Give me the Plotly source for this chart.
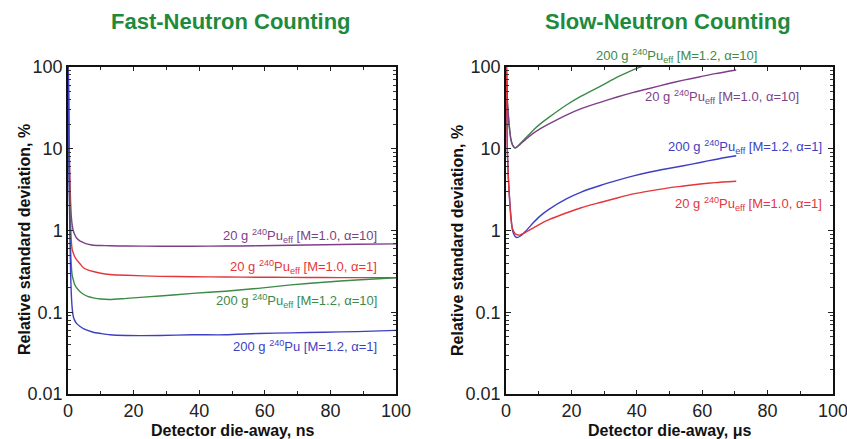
import plotly.graph_objects as go

# ---------------- data ----------------
fast_x = [0.05, 0.3, 0.6, 0.8, 1.0, 1.3, 1.6, 2.0, 2.6, 3.7, 4.7, 6, 7.7, 10, 12.8, 17.9, 28, 38, 48, 58, 68, 78, 88, 100]
fast_purple = [150, 15, 4, 2.2, 1.5, 1.15, 1.0, 0.9, 0.81, 0.74, 0.71, 0.68, 0.66, 0.655, 0.65, 0.645, 0.643, 0.643, 0.645, 0.65, 0.66, 0.67, 0.678, 0.687]
fast_red = [150, 10, 2.5, 1.2, 0.75, 0.58, 0.53, 0.48, 0.44, 0.39, 0.35, 0.33, 0.315, 0.3, 0.29, 0.283, 0.275, 0.272, 0.27, 0.268, 0.267, 0.266, 0.265, 0.265]
fast_green = [150, 8, 1.5, 0.6, 0.38, 0.28, 0.25, 0.22, 0.2, 0.178, 0.166, 0.156, 0.15, 0.145, 0.143, 0.148, 0.158, 0.17, 0.181, 0.196, 0.216, 0.233, 0.248, 0.264]
fast_blue = [150, 5, 0.8, 0.3, 0.17, 0.11, 0.089, 0.08, 0.073, 0.067, 0.063, 0.06, 0.057, 0.055, 0.053, 0.052, 0.052, 0.053, 0.053, 0.055, 0.056, 0.057, 0.058, 0.060]

slow_x = [0.05, 0.4, 0.7, 1.0, 1.5, 2.0, 2.75, 3.3, 4.3, 6, 8.4, 10.4, 13, 18.6, 23, 28.8, 34, 39, 44.1, 49.2, 54.3, 59.4, 64, 70.4]
slow_purple = [150, 40, 26, 18.7, 13, 11.2, 10.3, 10.5, 11.3, 13, 15.5, 17.5, 20, 26, 31, 37, 43, 49, 55, 62, 69, 76, 83, 92]
slow_blue = [150, 10, 4.6, 2.85, 1.5, 1.0, 0.85, 0.82, 0.85, 0.98, 1.25, 1.5, 1.8, 2.45, 2.95, 3.55, 4.1, 4.65, 5.2, 5.7, 6.2, 6.8, 7.4, 8.2]
slow_red = [150, 10, 4.6, 2.7, 1.4, 1.05, 0.92, 0.89, 0.88, 0.95, 1.08, 1.2, 1.35, 1.65, 1.9, 2.2, 2.5, 2.8, 3.05, 3.3, 3.5, 3.7, 3.85, 4.0]
slow_green_x = [0.05, 0.4, 0.7, 1.0, 1.5, 2.0, 2.75, 3.3, 4.3, 6, 8.4, 10.4, 13, 18.6, 23, 28.8, 34, 39, 44.1]
slow_green = [150, 40, 26, 19, 13, 11, 10.2, 10.5, 11.5, 13.5, 17, 20, 24, 34.5, 44, 58, 75, 93, 110]

y_ticks = [0.01, 0.1, 1, 10, 100]
y_tick_labels = ["0.01", "0.1", "1", "10", "100"]
x_ticks = [0, 20, 40, 60, 80, 100]

PURPLE = "#7e3f88"
RED = "#e3363c"
GREEN = "#3b8a47"
BLUE = "#3d3fc4"
TITLE_GREEN = "#1e8a3c"
FONT = "Liberation Sans, Arial, sans-serif"

fig = go.Figure()

def add(x, y, color, xa, ya):
    fig.add_trace(go.Scatter(x=x, y=y, mode="lines",
                             line=dict(color=color, width=1.4, shape="spline", smoothing=0.6),
                             xaxis=xa, yaxis=ya, showlegend=False, hoverinfo="skip"))

add(fast_x, fast_purple, PURPLE, "x", "y")
add(fast_x, fast_red, RED, "x", "y")
add(fast_x, fast_green, GREEN, "x", "y")
add(fast_x, fast_blue, BLUE, "x", "y")

add(slow_green_x, slow_green, GREEN, "x2", "y2")
add(slow_x, slow_purple, PURPLE, "x2", "y2")
add(slow_x, slow_blue, BLUE, "x2", "y2")
add(slow_x, slow_red, RED, "x2", "y2")

W, H = 847, 439
tickfont = dict(family=FONT, size=18, color="#222")

def xaxis(domain, anchor):
    return dict(domain=domain, anchor=anchor, range=[0, 100], tickvals=x_ticks,
                ticks="inside", ticklen=4, tickwidth=1, tickcolor="#222",
                minor=dict(ticks="inside", ticklen=3, dtick=10, tickcolor="#222"),
                showline=True, linecolor="#111", linewidth=1.5, mirror="allticks",
                showgrid=False, zeroline=False, tickfont=tickfont, automargin=False,
                ticklabeloverflow="allow")

def yaxis(domain, anchor):
    return dict(domain=domain, anchor=anchor, type="log", range=[-2, 2],
                tickvals=y_ticks, ticktext=y_tick_labels,
                ticks="inside", ticklen=5, tickwidth=1, tickcolor="#222",
                minor=dict(ticks="inside", ticklen=3, tickcolor="#333", dtick="D1"),
                showline=True, linecolor="#111", linewidth=1.5, mirror="allticks",
                showgrid=False, zeroline=False, tickfont=tickfont, automargin=False,
                ticklabeloverflow="allow")

ydom = [(H - 394) / H, (H - 67) / H]
fig.update_layout(
    width=W, height=H, margin=dict(l=0, r=0, t=0, b=0),
    paper_bgcolor="white", plot_bgcolor="white",
    xaxis=xaxis([68 / W, 396 / W], "y"),
    yaxis=yaxis(ydom, "x"),
    xaxis2=xaxis([506 / W, 833 / W], "y2"),
    yaxis2=yaxis(ydom, "x2"),
)

def text(t, xpix, ypix, color, size, anchor="center", angle=0, bold=False):
    fig.add_annotation(text=("<b>" + t + "</b>") if bold else t, x=xpix / W, y=1 - ypix / H,
                       xref="paper", yref="paper", xanchor=anchor, yanchor="middle",
                       showarrow=False, textangle=angle,
                       font=dict(family=FONT, size=size, color=color))

# curve labels
text("20 g <sup>240</sup>Pu<sub>eff</sub> [M=1.0, α=10]", 379, 236, PURPLE, 13, "right")
text("20 g <sup>240</sup>Pu<sub>eff</sub> [M=1.0, α=1]", 379, 267, RED, 13, "right")
text("200 g <sup>240</sup>Pu<sub>eff</sub> [M=1.2, α=10]", 379, 301, GREEN, 13, "right")
text("200 g <sup>240</sup>Pu [M=1.2, α=1]", 379, 346, BLUE, 13, "right")

text("200 g <sup>240</sup>Pu<sub>eff</sub> [M=1.2, α=10]", 759, 56, GREEN, 13, "right")
text("20 g <sup>240</sup>Pu<sub>eff</sub> [M=1.0, α=10]", 801, 97, PURPLE, 13, "right")
text("200 g <sup>240</sup>Pu<sub>eff</sub> [M=1.2, α=1]", 824, 147, BLUE, 13, "right")
text("20 g <sup>240</sup>Pu<sub>eff</sub> [M=1.0, α=1]", 824, 204, RED, 13, "right")

# titles
text("Fast-Neutron Counting", 231, 22, TITLE_GREEN, 22, bold=True)
text("Slow-Neutron Counting", 668, 22, TITLE_GREEN, 22, bold=True)

# axis titles
text("Detector die-away, ns", 232, 430, "#111", 16, bold=True)
text("Detector die-away, μs", 669, 430, "#111", 16, bold=True)
text("Relative standard deviation, %", 24, 240, "#111", 16, angle=-90, bold=True)
text("Relative standard deviation, %", 457, 240, "#111", 16, angle=-90, bold=True)

fig.write_html("out.html", config={"displayModeBar": False},
               post_script="document.body.style.margin='0';document.body.style.overflow='hidden';")
